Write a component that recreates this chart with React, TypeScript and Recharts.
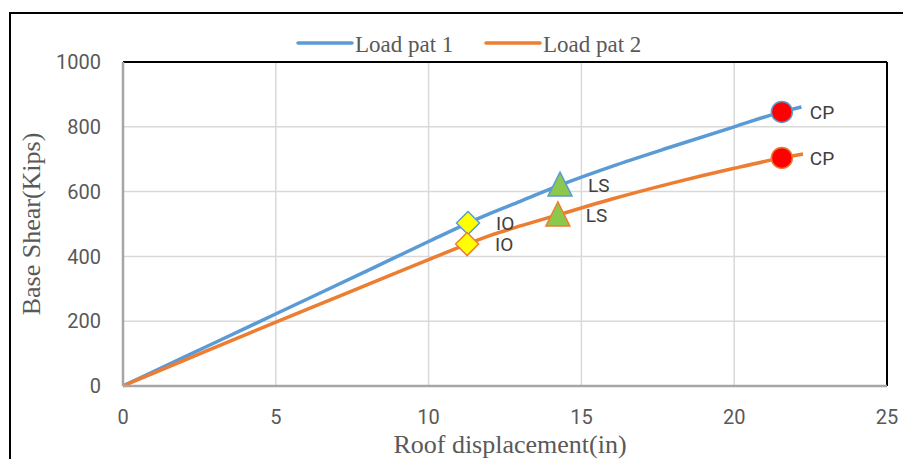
import React from 'react';
import {
  ComposedChart,
  Line,
  Scatter,
  XAxis,
  YAxis,
  CartesianGrid,
  ReferenceLine,
  Legend,
} from 'recharts';

// ---- data ----
const xTicks = [0, 5, 10, 15, 20, 25];
const yTicks = [0, 200, 400, 600, 800, 1000];

const disp1 = [0, 2, 4, 6, 8, 10, 11.29, 12, 13, 14.3, 16, 18, 20, 21.56, 22.2];
const shear1 = [0, 89, 178, 267, 356, 446, 503, 532, 570, 620, 678, 740, 800, 846, 861];

const disp2 = [0, 2, 4, 6, 8, 10, 11.26, 12, 13, 14.23, 16, 18, 20, 21.56, 22.25];
const shear2 = [0, 79, 158, 236, 313, 390, 438, 464, 494, 528, 577, 627, 672, 704, 716];

const seriesNames = ['Load pat 1', 'Load pat 2'];
const colors = ['#5B9BD5', '#ED7D31'];

// performance points: [IO, LS, CP]
const perfLabels = ['IO', 'LS', 'CP'];
const perfDisp1 = [11.29, 14.3, 21.56];
const perfShear1 = [503, 620, 846];
const perfDisp2 = [11.26, 14.23, 21.56];
const perfShear2 = [438, 528, 704];

const xTitle = 'Roof displacement(in)';
const yTitle = 'Base Shear(Kips)';

const line1 = disp1.map((x, i) => ({ x, y: shear1[i] }));
const line2 = disp2.map((x, i) => ({ x, y: shear2[i] }));
const pts = (d: number[], s: number[], idx: number) => [{ x: d[idx], y: s[idx], label: perfLabels[idx] }];

const serif = '"Liberation Serif", "Times New Roman", serif';
const sans = 'Roboto, "Liberation Sans", sans-serif';

const labelText = (cx: number, cy: number, txt: string) => (
  <text x={cx + 28} y={cy + 2} dominantBaseline="middle" fontFamily={sans} fontSize={19} fill="#404040">
    {txt}
  </text>
);

const makeDiamond = (stroke: string) => (p: any) => {
  const { cx, cy, payload } = p;
  const r = 11.5;
  return (
    <g>
      <path d={`M${cx},${cy - r}L${cx + r},${cy}L${cx},${cy + r}L${cx - r},${cy}Z`} fill="#FFFF00" stroke={stroke} strokeWidth={1.5} />
      {labelText(cx, cy, payload.label)}
    </g>
  );
};

const makeTriangle = (stroke: string) => (p: any) => {
  const { cx, cy, payload } = p;
  return (
    <g>
      <path d={`M${cx},${cy - 13}L${cx + 12},${cy + 11}L${cx - 12},${cy + 11}Z`} fill="#8CC84B" stroke={stroke} strokeWidth={1.5} />
      {labelText(cx, cy, payload.label)}
    </g>
  );
};

const makeCircle = (stroke: string) => (p: any) => {
  const { cx, cy, payload } = p;
  return (
    <g>
      <circle cx={cx} cy={cy} r={10.5} fill="#FF0000" stroke={stroke} strokeWidth={1.5} />
      {labelText(cx, cy, payload.label)}
    </g>
  );
};

const LegendContent = () => (
  <svg width={903} height={60} style={{ display: 'block' }}>
    <line x1={298} y1={43} x2={352} y2={43} stroke={colors[0]} strokeWidth={3.5} strokeLinecap="round" />
    <text x={355} y={52} fontFamily={serif} fontSize={23} fill="#595959">{seriesNames[0]}</text>
    <line x1={486} y1={43} x2={540} y2={43} stroke={colors[1]} strokeWidth={3.5} strokeLinecap="round" />
    <text x={543} y={52} fontFamily={serif} fontSize={23} fill="#595959">{seriesNames[1]}</text>
  </svg>
);

export default function App() {
  return (
    <div style={{ position: 'absolute', left: 0, top: 0, width: 903, height: 459, background: '#fff', overflow: 'hidden' }}>
      <div style={{ position: 'absolute', left: 9, top: 12, width: 903, height: 459, borderLeft: '2px solid #000', borderTop: '2px solid #000' }} />
      <div style={{ position: 'absolute', left: 0, top: 0 }}>
        <ComposedChart width={903} height={459} margin={{ top: 2, right: 16, bottom: 43, left: 63 }}>
          <CartesianGrid stroke="#D9D9D9" strokeWidth={1.5} />
          <XAxis
            dataKey="x"
            type="number"
            domain={[0, 25]}
            ticks={xTicks}
            height={30}
            tickSize={0}
            tickMargin={24}
            axisLine={{ stroke: '#A6A6A6', strokeWidth: 2.5 }}
            tick={{ fill: '#595959', fontSize: 20, fontFamily: sans }}
            allowDataOverflow
            label={{
              content: (props: any) => {
                const vb = props.viewBox || { x: 123, width: 764 };
                return (
                  <text x={vb.x + vb.width / 2 + 5} y={453} textAnchor="middle" fontFamily={serif} fontSize={26} fill="#595959">
                    {xTitle}
                  </text>
                );
              },
            }}
          />
          <YAxis
            dataKey="y"
            type="number"
            domain={[0, 1000]}
            ticks={yTicks}
            width={60}
            tickSize={0}
            tickMargin={22}
            axisLine={{ stroke: '#A6A6A6', strokeWidth: 2.5 }}
            tick={{ fill: '#595959', fontSize: 20, fontFamily: sans }}
            label={{
              content: () => (
                <text x={40} y={224} transform="rotate(-90 40 224)" textAnchor="middle" fontFamily={serif} fontSize={26} fill="#595959">
                  {yTitle}
                </text>
              ),
            }}
          />
          <ReferenceLine y={1000} stroke="#000" strokeWidth={2} />
          <ReferenceLine x={25} stroke="#000" strokeWidth={2} />
          <Legend verticalAlign="top" wrapperStyle={{ position: 'absolute', top: 0, left: 0, width: 903, height: 60 }} content={LegendContent} />
          <Line data={line1} dataKey="y" name={seriesNames[0]} type="monotone" stroke={colors[0]} strokeWidth={3.5} dot={false} isAnimationActive={false} />
          <Line data={line2} dataKey="y" name={seriesNames[1]} type="monotone" stroke={colors[1]} strokeWidth={3.5} dot={false} isAnimationActive={false} />
          <Scatter data={pts(perfDisp1, perfShear1, 0)} dataKey="y" shape={makeDiamond(colors[0])} legendType="none" isAnimationActive={false} />
          <Scatter data={pts(perfDisp2, perfShear2, 0)} dataKey="y" shape={makeDiamond(colors[1])} legendType="none" isAnimationActive={false} />
          <Scatter data={pts(perfDisp1, perfShear1, 1)} dataKey="y" shape={makeTriangle(colors[0])} legendType="none" isAnimationActive={false} />
          <Scatter data={pts(perfDisp2, perfShear2, 1)} dataKey="y" shape={makeTriangle(colors[1])} legendType="none" isAnimationActive={false} />
          <Scatter data={pts(perfDisp1, perfShear1, 2)} dataKey="y" shape={makeCircle(colors[0])} legendType="none" isAnimationActive={false} />
          <Scatter data={pts(perfDisp2, perfShear2, 2)} dataKey="y" shape={makeCircle(colors[1])} legendType="none" isAnimationActive={false} />
        </ComposedChart>
      </div>
    </div>
  );
}
